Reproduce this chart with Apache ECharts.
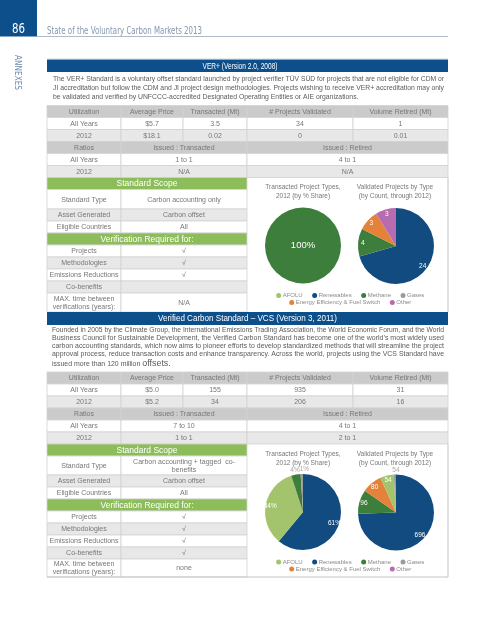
<!DOCTYPE html>
<html><head><meta charset="utf-8">
<script src="https://cdn.jsdelivr.net/npm/echarts@6/dist/echarts.min.js"></script>
<style>html,body{margin:0;padding:0;background:#fff}#c{width:495px;height:640px}</style>
</head><body><div id="c"></div>
<script>
// ---------------- DATA ----------------
const pageNumber = '86';
const runningTitle = 'State of the Voluntary Carbon Markets 2013';
const sideTab = 'ANNEXES';

const categories = ['AFOLU', 'Renewables', 'Methane', 'Gases', 'Energy Efficiency & Fuel Switch', 'Other'];
const categoryColors = ['#a3c46c', '#124b80', '#3e7e3c', '#9c9c9c', '#e5823a', '#b66cae'];
const legendRow1 = ['AFOLU', 'Renewables', 'Methane', 'Gases'];
const legendRow2 = ['Energy Efficiency & Fuel Switch', 'Other'];

const utilizationHeaders = ['Utilization', 'Average Price', 'Transacted (Mt)', '# Projects Validated', 'Volume Retired (Mt)'];
const ratioHeaders = ['Ratios', 'Issued : Transacted', 'Issued : Retired'];
const rowLabels = ['All Years', '2012'];
const scopeTitle = 'Standard Scope';
const scopeLabels = ['Standard Type', 'Asset Generated', 'Eligible Countries'];
const verificationTitle = 'Verification Required for:';
const verificationLabels = ['Projects', 'Methodologies', 'Emissions Reductions', 'Co-benefits', 'MAX. time between\nverifications (years):'];
const pieTitleTransacted = 'Transacted Project Types,\n2012 (by % Share)';
const pieTitleValidated = 'Validated Projects by Type\n(by Count, through 2012)';

// VER+
const verTitle = 'VER+ (Version 2.0, 2008)';
const verText = [
  'The VER+ Standard is a voluntary offset standard launched by project verifier TÜV SÜD for projects that are not eligible for CDM or',
  'JI accreditation but follow the CDM and JI project design methodologies. Projects wishing to receive VER+ accreditation may only',
  'be validated and verified by UNFCCC-accredited Designated Operating Entities or AIE organizations.'
];
const verAvgPrice = ['$5.7', '$18.1'];
const verTransacted = ['3.5', '0.02'];
const verProjectsValidated = ['34', '0'];
const verRetired = ['1', '0.01'];
const verIssuedTransacted = ['1 to 1', 'N/A'];
const verIssuedRetired = ['4 to 1', 'N/A'];
const verScope = ['Carbon accounting only', 'Carbon offset', 'All'];
const verVerification = ['√', '√', '√', '', 'N/A'];
const verTransactedTypes = ['Methane'];
const verTransactedShare = [100];
const verValidatedTypes = ['Renewables', 'Methane', 'Energy Efficiency & Fuel Switch', 'Other'];
const verValidatedCounts = [24, 4, 3, 3];

// VCS
const vcsTitle = 'Verified Carbon Standard – VCS (Version 3, 2011)';
const vcsText = [
  'Founded in 2005 by the Climate Group, the International Emissions Trading Association, the World Economic Forum, and the World',
  'Business Council for Sustainable Development, the Verified Carbon Standard has become one of the world\u2019s most widely used',
  'carbon accounting standards, which now aims to pioneer efforts to develop standardized methods that will streamline the project',
  'approval process, reduce transaction costs and enhance transparency. Across the world, projects using the VCS Standard have',
  'issued more than 120 million '
];
const vcsTextEnd = 'offsets.';
const vcsAvgPrice = ['$5.0', '$5.2'];
const vcsTransacted = ['155', '34'];
const vcsProjectsValidated = ['935', '206'];
const vcsRetired = ['31', '16'];
const vcsIssuedTransacted = ['7 to 10', '1 to 1'];
const vcsIssuedRetired = ['4 to 1', '2 to 1'];
const vcsScope = ['Carbon accounting + tagged  co-\nbenefits', 'Carbon offset', 'All'];
const vcsVerification = ['√', '√', '√', '√', 'none'];
const vcsTransactedTypes = ['Renewables', 'AFOLU', 'Methane', 'Gases'];
const vcsTransactedShare = [61, 34, 4, 1];
const vcsValidatedTypes = ['Renewables', 'Methane', 'Energy Efficiency & Fuel Switch', 'AFOLU', 'Gases', 'Other'];
const vcsValidatedCounts = [696, 96, 80, 54, 5, 4];

// ---------------- DRAWING ----------------
const FF = '"Liberation Sans", Arial, sans-serif';
const FC = '"DejaVu Sans Condensed", "DejaVu Sans", sans-serif';
const BLUE = '#0d4f8b', GREEN = '#8dbd5b', TXT = '#777777';
const L = 47, R = 448;
const mctx = document.createElement('canvas').getContext('2d');
function tw(s, size, fam, weight) {
  mctx.font = (weight ? weight + ' ' : '') + size + 'px ' + (fam || FF);
  return Math.max.apply(null, String(s).split('\n').map(l => mctx.measureText(l).width));
}
const colorOf = n => categoryColors[categories.indexOf(n)];
const els = [];
function text(x, y, s, size, fill, align, o) {
  o = o || {};
  let sx = 1;
  if (o.width) sx = o.width / tw(s, size, o.family, o.weight);
  els.push({
    type: 'text', x: x, y: y, scaleX: sx, rotation: o.rotation || 0, silent: true, z: 10,
    style: {
      text: s, fontSize: size, fontFamily: o.family || FF, fontWeight: o.weight || 'normal', fill: fill,
      align: align || 'center', textAlign: align || 'center', verticalAlign: 'middle', textVerticalAlign: 'middle',
      lineHeight: o.lh || Math.round(size * 1.2)
    }
  });
}
function rect(x, y, w, h, fill, stroke, lw) {
  els.push({ type: 'rect', shape: { x: x, y: y, width: w, height: h }, silent: true, z: 5,
    style: { fill: fill, stroke: stroke || null, lineWidth: lw || 0 } });
}
function line(x1, y1, x2, y2, stroke, lw) {
  els.push({ type: 'line', shape: { x1: x1, y1: y1, x2: x2, y2: y2 }, silent: true, z: 6,
    style: { stroke: stroke, lineWidth: lw || 1 } });
}
function cell(x0, x1, y0, y1, fill, s, o) {
  rect(x0, y0, x1 - x0, y1 - y0, fill, '#d2d2d2', 0.8);
  if (s !== '' && s != null) text((x0 + x1) / 2, (y0 + y1) / 2 + 0.5, s, (o && o.size) || 7, (o && o.color) || TXT, 'center', o);
}

// page header
rect(0, 0, 37, 36.5, BLUE);
text(18.5, 29.5, pageNumber, 14, '#ffffff', 'center', { family: FC, width: 13 });
text(47, 31.5, runningTitle, 10, '#8497ad', 'left', { family: FC, width: 155 });
line(37, 36.5, 448, 36.5, '#9aaabb', 0.8);
line(47, 59.2, 448, 59.2, '#9aaabb', 0.8);
text(17, 72.5, sideTab, 9, '#6d8bb0', 'center', { family: FC, width: 35, rotation: -Math.PI / 2 });

const series = [];
function pies(names, values, cx, cy, r, fmt) {
  const base = { type: 'pie', center: [cx, cy], startAngle: 90, clockwise: true, silent: true, animation: false,
    avoidLabelOverlap: false, minShowLabelAngle: 0, emphasis: { disabled: true }, labelLine: { show: false }, itemStyle: { borderWidth: 0 } };
  const data = names.map((n, i) => ({ name: n, value: values[i], itemStyle: { color: colorOf(n) } }));
  if (names.length === 1) {
    series.push(Object.assign({}, base, { radius: r, data: data,
      label: { show: true, position: 'center', formatter: p => fmt(p.value), color: '#fff', fontSize: 9.5, fontFamily: FF } }));
    return;
  }
  const clear = names.map((n, i) => ({ name: n, value: values[i], itemStyle: { color: 'rgba(0,0,0,0)' } }));
  series.push(Object.assign({}, base, { radius: r, data: data, label: { show: false } }));
  series.push(Object.assign({}, base, { radius: [0.6 * r, r], data: clear, z: 3,
    label: { show: true, position: 'inside', rotate: 0, formatter: p => p.percent >= 5 ? fmt(p.value) : '', color: '#fff', fontSize: 6.5, fontFamily: FF } }));
  series.push(Object.assign({}, base, { radius: [r, 1.08 * r], data: clear, z: 3,
    labelLayout: { hideOverlap: false, moveOverlap: 'shiftX' },
    label: { show: true, position: 'inside', rotate: 0, padding: [0, 3.5], formatter: p => p.percent < 5 ? fmt(p.value) : '', color: '#a8a8a8', fontSize: 6.5, fontFamily: FF } }));
}

function legend(y1, y2) {
  [legendRow1, legendRow2].forEach((row, ri) => {
    const y = ri ? y2 : y1;
    const ws = row.map(n => 6 + tw(n, 6));
    const total = ws.reduce((a, b) => a + b, 0) + 10 * (row.length - 1);
    let x = 350 - total / 2;
    row.forEach((n, i) => {
      els.push({ type: 'circle', shape: { cx: x + 2.5, cy: y, r: 2.5 }, silent: true, z: 10, style: { fill: colorOf(n) } });
      text(x + 6.5, y + 0.3, n, 6, '#8a8a8a', 'left');
      x += ws[i] + 10;
    });
  });
}

function section(d, g) {
  rect(L, g.hdr0, R - L, g.hdr1 - g.hdr0, BLUE);
  text(g.hdrX, (g.hdr0 + g.hdr1) / 2 + 0.5, d.title, 9, '#ffffff', 'center', { width: g.hdrW });
  const pw = g.px1 - g.px0;
  let sc = 1;
  d.text.forEach((ln, i) => {
    const w = tw(ln, 7);
    const last = i === d.text.length - 1;
    if (!last) sc = pw / w;
    text(g.px0, g.py[i], ln, 7, '#5a5a5a', 'left', { width: w * sc });
    if (last && d.textEnd) {
      text(g.px0 + w * sc, g.py[i] - 0.5, d.textEnd, 9, '#5a5a5a', 'left', { width: tw(d.textEnd, 9) * sc });
    }
  });
  const T = g.T, H = 12;
  const c5 = [L, 121, 183, 247, 353, R];
  const c3 = [L, 121, 247, R];
  const gray = '#cbcbcb', light = '#e8e8e8', white = '#ffffff';
  utilizationHeaders.forEach((h, i) => cell(c5[i], c5[i + 1], T, T + H, gray, h));
  rowLabels.forEach((lab, r) => {
    const vals = [lab, d.avg[r], d.trans[r], d.valid[r], d.ret[r]];
    vals.forEach((v, i) => cell(c5[i], c5[i + 1], T + H * (r + 1), T + H * (r + 2), r ? light : white, v));
  });
  ratioHeaders.forEach((h, i) => cell(c3[i], c3[i + 1], T + 3 * H, T + 4 * H, gray, h));
  rowLabels.forEach((lab, r) => {
    const vals = [lab, d.it[r], d.ir[r]];
    vals.forEach((v, i) => cell(c3[i], c3[i + 1], T + H * (r + 4), T + H * (r + 5), r ? light : white, v));
  });
  const sy = T + 6 * H;
  rect(L, sy, 247 - L, H, GREEN, '#d2d2d2', 0.8);
  text((L + 247) / 2, sy + H / 2 + 0.5, scopeTitle, 8.5, '#ffffff');
  let y = sy + H;
  const rowsA = [[scopeLabels[0], d.scope[0], g.stdH, white], [scopeLabels[1], d.scope[1], H, light], [scopeLabels[2], d.scope[2], H, white]];
  rowsA.forEach(rw => {
    cell(L, 121, y, y + rw[2], rw[3], rw[0]);
    cell(121, 247, y, y + rw[2], rw[3], rw[1], { lh: 8 });
    y += rw[2];
  });
  rect(L, y, 247 - L, H, GREEN, '#d2d2d2', 0.8);
  text((L + 247) / 2, y + H / 2 + 0.5, verificationTitle, 8.5, '#ffffff');
  y += H;
  const fills = [white, light, white, light, white];
  verificationLabels.forEach((lab, i) => {
    const h = i === 4 ? g.maxH : H;
    cell(L, 121, y, y + h, fills[i], lab, { lh: 8 });
    cell(121, 247, y, y + h, fills[i], d.verif[i]);
    y += h;
  });
  const bottom = y;
  line(R, sy, R, bottom, '#c4c4c4', 1);
  if (g.bottomLine) line(L, bottom, R, bottom, '#c4c4c4', 1);
  text(303, sy + 14.5, pieTitleTransacted, 6.5, TXT, 'center', { lh: 9 });
  text(395, sy + 14.5, pieTitleValidated, 6.5, TXT, 'center', { lh: 9 });
  pies(d.tNames, d.tVals, 303, sy + 68, 38, v => v + '%');
  pies(d.vNames, d.vVals, 396, sy + 68.5, 38, v => String(v));
  legend(sy + 118, sy + 125);
}

section({
  title: verTitle, text: verText, avg: verAvgPrice, trans: verTransacted, valid: verProjectsValidated, ret: verRetired,
  it: verIssuedTransacted, ir: verIssuedRetired, scope: verScope, verif: verVerification,
  tNames: verTransactedTypes, tVals: verTransactedShare, vNames: verValidatedTypes, vVals: verValidatedCounts
}, { hdr0: 59.5, hdr1: 72, hdrX: 240, hdrW: 75, px0: 53, px1: 444, py: [79, 88, 97], T: 105.5, stdH: 19.5, maxH: 19, bottomLine: false });

section({
  title: vcsTitle, text: vcsText, textEnd: vcsTextEnd, avg: vcsAvgPrice, trans: vcsTransacted, valid: vcsProjectsValidated, ret: vcsRetired,
  it: vcsIssuedTransacted, ir: vcsIssuedRetired, scope: vcsScope, verif: vcsVerification,
  tNames: vcsTransactedTypes, tVals: vcsTransactedShare, vNames: vcsValidatedTypes, vVals: vcsValidatedCounts
}, { hdr0: 312, hdr1: 325, hdrX: 247.5, hdrW: 179, px0: 52, px1: 444, py: [330, 338, 346, 354, 364], T: 372, stdH: 19, maxH: 18, bottomLine: true });

const chart = echarts.init(document.getElementById('c'), null, { renderer: 'canvas' });
chart.setOption({
  backgroundColor: '#ffffff',
  animation: false,
  graphic: { elements: els },
  series: series
});
</script>
</body></html>
